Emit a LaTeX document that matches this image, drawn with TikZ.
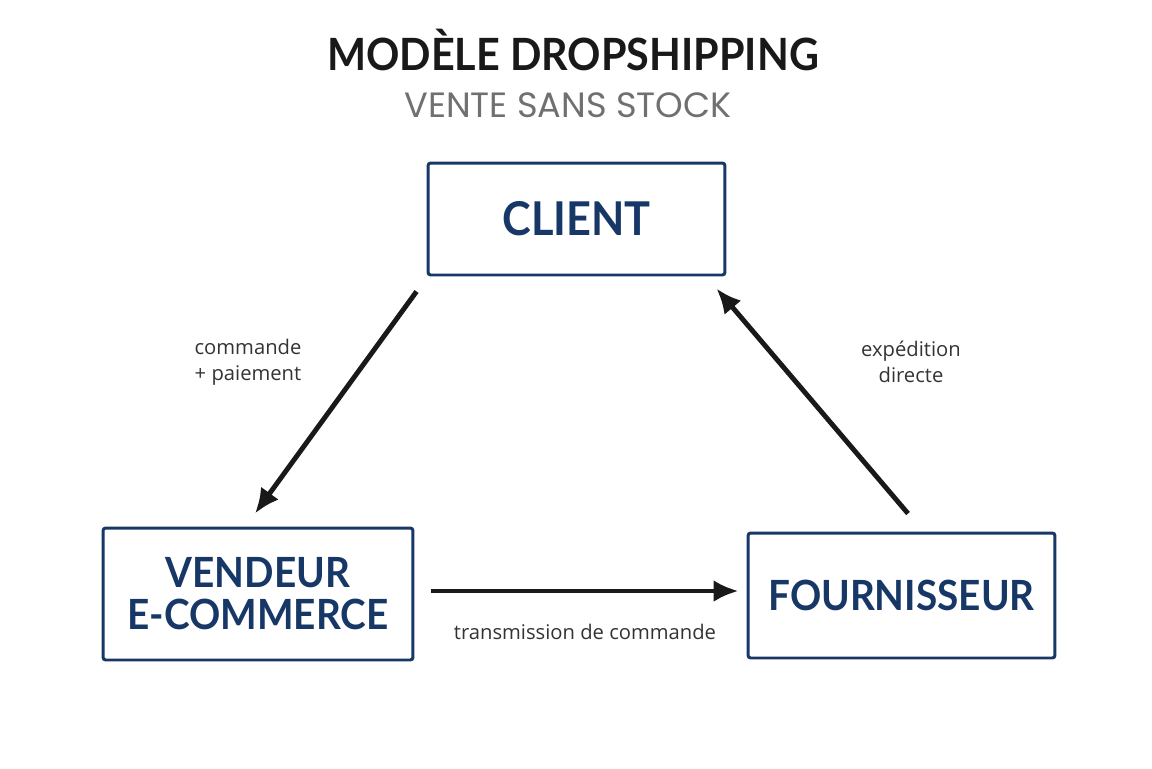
\documentclass[tikz,border=0pt]{standalone}
\usepackage{fontspec}
\setmainfont{Open Sans}
\newfontfamily\titlefont{Poppins}
\newfontfamily\boxfont{Lato}[FakeStretch=0.93]
\usepackage{xcolor}
\usepackage{tikz}
\usetikzlibrary{calc, arrows.meta, positioning}

\definecolor{navy}{HTML}{173867}
\definecolor{subgray}{HTML}{707070}
\definecolor{lblgray}{HTML}{333333}

\tikzset{
    acteur/.style={draw=navy, line width=1.7pt, rounded corners=1.5pt, fill=white,
        text=navy, font=\boxfont\bfseries\fontsize{23.7}{24}\selectfont,
        align=center, inner sep=0pt},
    fleche/.style={line width=2.8pt, draw=black!90, -{Latex[length=5mm, width=4.4mm]}},
    legende/.style={text=lblgray, font=\fontsize{11.5}{14.8}\selectfont, align=center}
}

\begin{document}
\begin{tikzpicture}[x=0.02cm, y=-0.02cm]
    \useasboundingbox (0,0) rectangle (1152,768);

    % Titre
    \node[anchor=base, font=\boxfont\bfseries\fontsize{25.3}{30}\selectfont, text=black!90] (titre) at (573,70) {MODÈLE DROPSHIPPING};
    \node[anchor=base, font=\titlefont\fontsize{20}{24}\selectfont, text=subgray] (soustitre) at (568,117) {VENTE SANS STOCK};

    % Acteurs
    \node[acteur, minimum width=5.94cm, minimum height=2.24cm, font=\boxfont\bfseries\fontsize{26.5}{24}\selectfont] (client) at (576.5,219) {CLIENT};
    \node[acteur, minimum width=6.2cm, minimum height=2.64cm] (vendeur) at (258,594) {VENDEUR\\E-COMMERCE};
    \node[acteur, minimum width=6.14cm, minimum height=2.5cm] (fournisseur) at (901.5,595.5) {FOURNISSEUR};

    % Flux
    \draw[fleche] ($(client.south west)+(-10,15)$) -- ($(vendeur.north)+(-3,-13)$);
    \draw[fleche] ($(vendeur.east)+(17,-3)$) -- ($(fournisseur.west)+(-8,-4.5)$);
    \draw[fleche] ($(fournisseur.north)+(6.5,-18)$) -- ($(client.south east)+(-10,12)$);

    % Légendes
    \node[legende] (lblcommande) at (248,362) {commande\\+ paiement};
    \node[legende] (lblexpedition) at (911,362) {expédition\\directe};
    \node[legende] (lbltransmission) at (585,632) {transmission de commande};
\end{tikzpicture}
\end{document}
